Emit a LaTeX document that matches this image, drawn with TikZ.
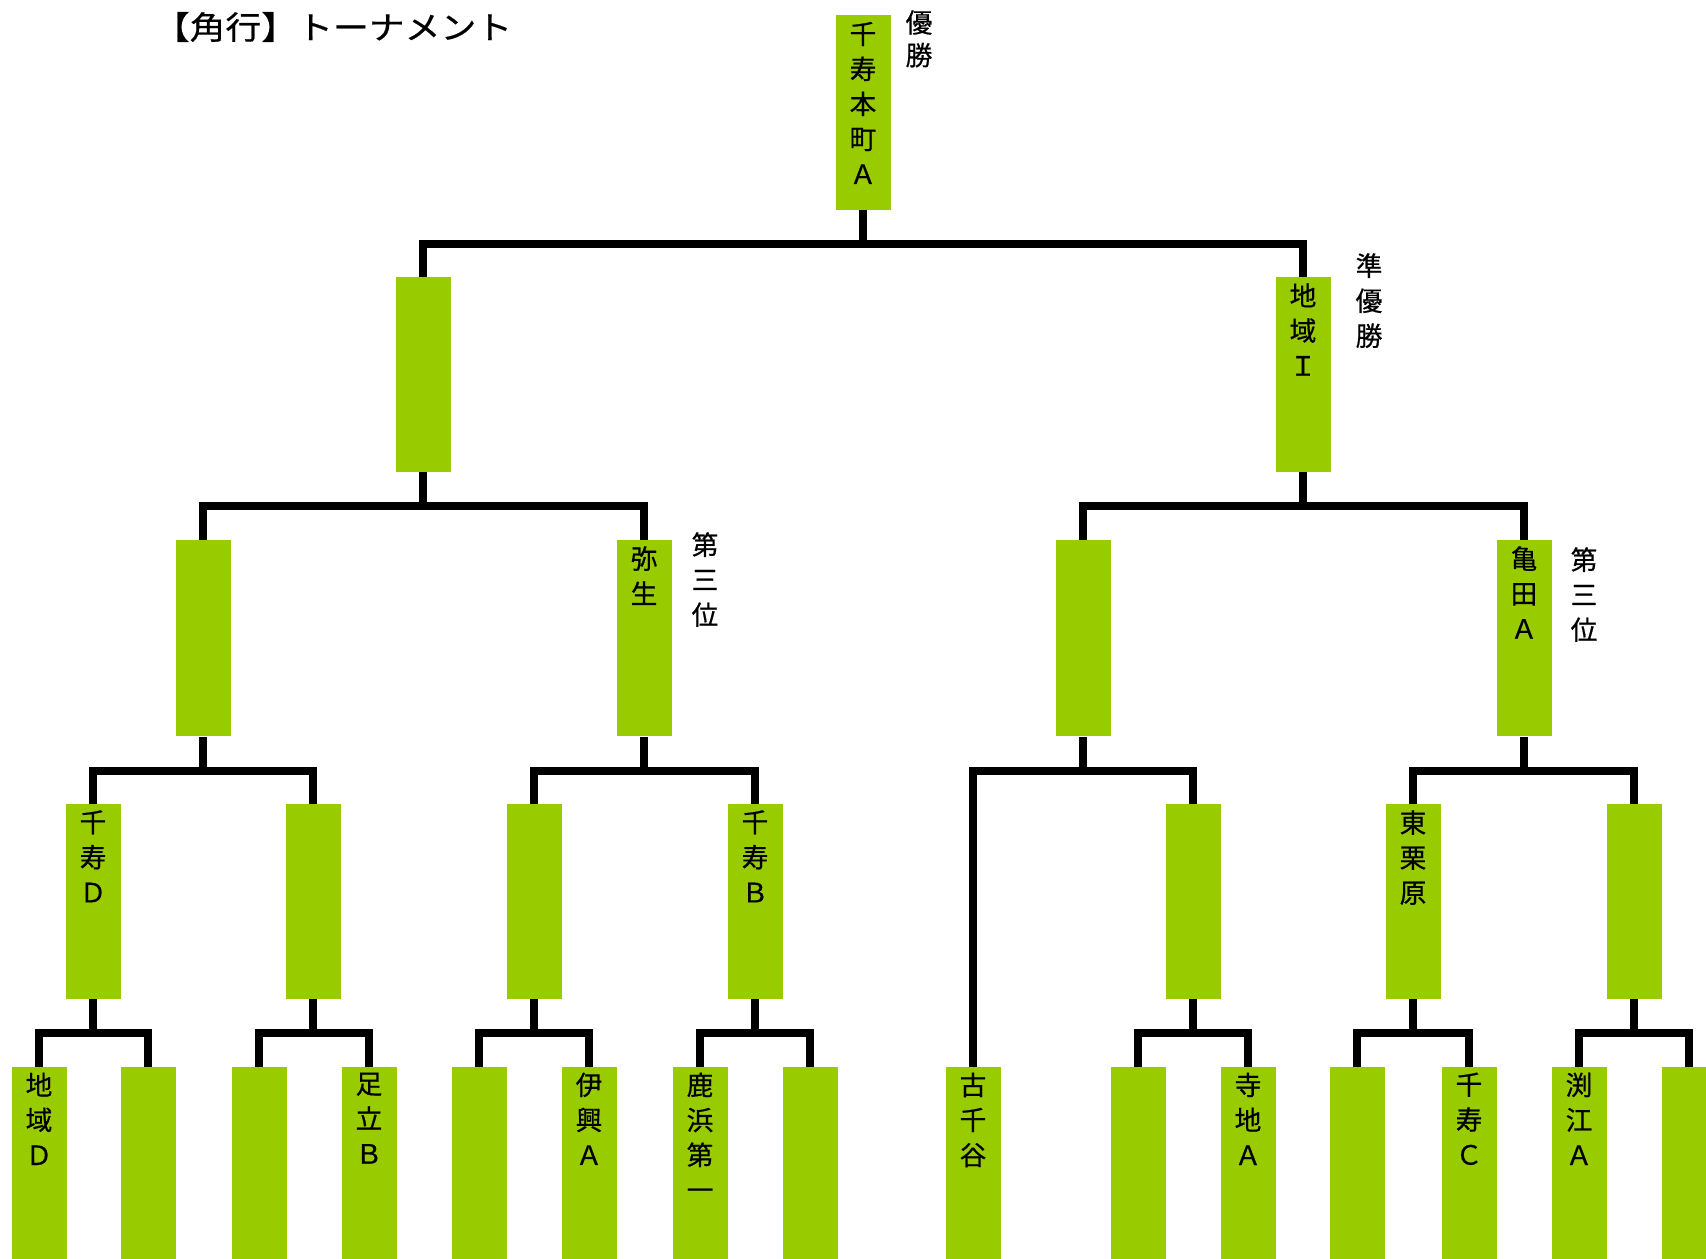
\documentclass[tikz,border=0pt]{standalone}
\usepackage{fontspec}
\usepackage{graphicx}
\newfontfamily\jp[FakeBold=0.6]{Noto Sans CJK JP}
\definecolor{boxgreen}{RGB}{153,204,0}
\begin{document}
\begin{tikzpicture}[x=0.75pt,y=-0.75pt,
  box/.style={fill=boxgreen,draw=none,anchor=north,inner sep=0pt,minimum width=41.25pt},
  h1/.style={minimum height=146pt},
  h2/.style={minimum height=147pt},
  h3/.style={minimum height=146pt},
  h4/.style={minimum height=145pt},
  vtxt/.style={anchor=north,align=center,inner sep=0pt,font=\jp\fontsize{20pt}{26.25pt}\selectfont},
  conn/.style={line width=5.6pt,line join=miter,black}]
\useasboundingbox (0,0) rectangle (1706,1258);
\clip (0,0) rectangle (1706,1258);
% title
\node[anchor=center,inner sep=0pt,font=\jp\fontsize{24pt}{28pt}\selectfont] (title) at (333,27) {\scalebox{1.12}[1]{【角行】トーナメント}};
% boxes
\node[box,h1] (w) at (863,15) {};
\node[box,h1] (s1) at (423,277) {};
\node[box,h1] (s2) at (1303,277) {};
\node[box,h2] (q1) at (203,540) {};
\node[box,h2] (q2) at (644,540) {};
\node[box,h2] (q3) at (1083,540) {};
\node[box,h2] (q4) at (1524,540) {};
\node[box,h3] (r1) at (93,804) {};
\node[box,h3] (r2) at (313,804) {};
\node[box,h3] (r3) at (534,804) {};
\node[box,h3] (r4) at (755,804) {};
\node[box,h3] (r6) at (1193,804) {};
\node[box,h3] (r7) at (1413,804) {};
\node[box,h3] (r8) at (1634,804) {};
\node[box,h4] (e1) at (39,1067) {};
\node[box,h4] (e2) at (148,1067) {};
\node[box,h4] (e3) at (259,1067) {};
\node[box,h4] (e4) at (369,1067) {};
\node[box,h4] (e5) at (479,1067) {};
\node[box,h4] (e6) at (589,1067) {};
\node[box,h4] (e7) at (700,1067) {};
\node[box,h4] (e8) at (810,1067) {};
\node[box,h4] (e9) at (973,1067) {};
\node[box,h4] (e10) at (1138,1067) {};
\node[box,h4] (e11) at (1248,1067) {};
\node[box,h4] (e12) at (1357,1067) {};
\node[box,h4] (e13) at (1469,1067) {};
\node[box,h4] (e14) at (1579,1067) {};
\node[box,h4] (e15) at (1689,1067) {};
% texts in boxes
\node[vtxt] (tw) at ([yshift=-5pt]w.north) {千\\寿\\本\\町\\Ａ};
\node[vtxt] (ts2) at ([yshift=-4.5pt]s2.north) {地\\域\\Ｉ};
\node[vtxt] (tq2) at ([yshift=-4.5pt]q2.north) {弥\\生};
\node[vtxt] (tq4) at ([yshift=-4.5pt]q4.north) {亀\\田\\Ａ};
\node[vtxt] (tr1) at ([yshift=-4.5pt]r1.north) {千\\寿\\Ｄ};
\node[vtxt] (tr4) at ([yshift=-4.5pt]r4.north) {千\\寿\\Ｂ};
\node[vtxt] (tr7) at ([yshift=-4.5pt]r7.north) {東\\栗\\原};
\node[vtxt] (te1) at ([yshift=-4pt]e1.north) {地\\域\\Ｄ};
\node[vtxt] (te4) at ([yshift=-4pt]e4.north) {足\\立\\Ｂ};
\node[vtxt] (te6) at ([yshift=-4pt]e6.north) {伊\\興\\Ａ};
\node[vtxt] (te7) at ([yshift=-4pt]e7.north) {鹿\\浜\\第\\一};
\node[vtxt] (te9) at ([yshift=-4pt]e9.north) {古\\千\\谷};
\node[vtxt] (te11) at ([yshift=-4pt]e11.north) {寺\\地\\Ａ};
\node[vtxt] (te13) at ([yshift=-4pt]e13.north) {千\\寿\\Ｃ};
\node[vtxt] (te14) at ([yshift=-4pt]e14.north) {渕\\江\\Ａ};
% side labels
\node[vtxt,font=\jp\fontsize{20pt}{24.5pt}\selectfont] (lw) at (919,10) {優\\勝};
\node[vtxt] (ls2) at (1369,253) {準\\優\\勝};
\node[vtxt] (lq2) at (705,532) {第\\三\\位};
\node[vtxt] (lq4) at (1584,547) {第\\三\\位};
% junctions
\coordinate (j0) at (863,244);
\coordinate (j1) at (423,506);
\coordinate (j2) at (1303,506);
\coordinate (k1) at (203,771);
\coordinate (k2) at (644,771);
\coordinate (k3) at (1083,771);
\coordinate (k4) at (1524,771);
\coordinate (m1) at (93,1033);
\coordinate (m2) at (313,1033);
\coordinate (m3) at (534,1033);
\coordinate (m4) at (755,1033);
\coordinate (m6) at (1193,1033);
\coordinate (m7) at (1413,1033);
\coordinate (m8) at (1634,1033);
% connectors
\draw[conn] (w.south) -- (j0);
\draw[conn] (s1.north) |- (j0) -| (s2.north);
\draw[conn] (s1.south) -- (j1);
\draw[conn] (q1.north) |- (j1) -| (q2.north);
\draw[conn] (s2.south) -- (j2);
\draw[conn] (q3.north) |- (j2) -| (q4.north);
\draw[conn] (q1.south) -- (k1);
\draw[conn] (r1.north) |- (k1) -| (r2.north);
\draw[conn] (q2.south) -- (k2);
\draw[conn] (r3.north) |- (k2) -| (r4.north);
\draw[conn] (q3.south) -- (k3);
\draw[conn] (e9.north) |- (k3) -| (r6.north);
\draw[conn] (q4.south) -- (k4);
\draw[conn] (r7.north) |- (k4) -| (r8.north);
\draw[conn] (r1.south) -- (m1);
\draw[conn] (e1.north) |- (m1) -| (e2.north);
\draw[conn] (r2.south) -- (m2);
\draw[conn] (e3.north) |- (m2) -| (e4.north);
\draw[conn] (r3.south) -- (m3);
\draw[conn] (e5.north) |- (m3) -| (e6.north);
\draw[conn] (r4.south) -- (m4);
\draw[conn] (e7.north) |- (m4) -| (e8.north);
\draw[conn] (r6.south) -- (m6);
\draw[conn] (e10.north) |- (m6) -| (e11.north);
\draw[conn] (r7.south) -- (m7);
\draw[conn] (e12.north) |- (m7) -| (e13.north);
\draw[conn] (r8.south) -- (m8);
\draw[conn] (e14.north) |- (m8) -| (e15.north);
\end{tikzpicture}
\end{document}
